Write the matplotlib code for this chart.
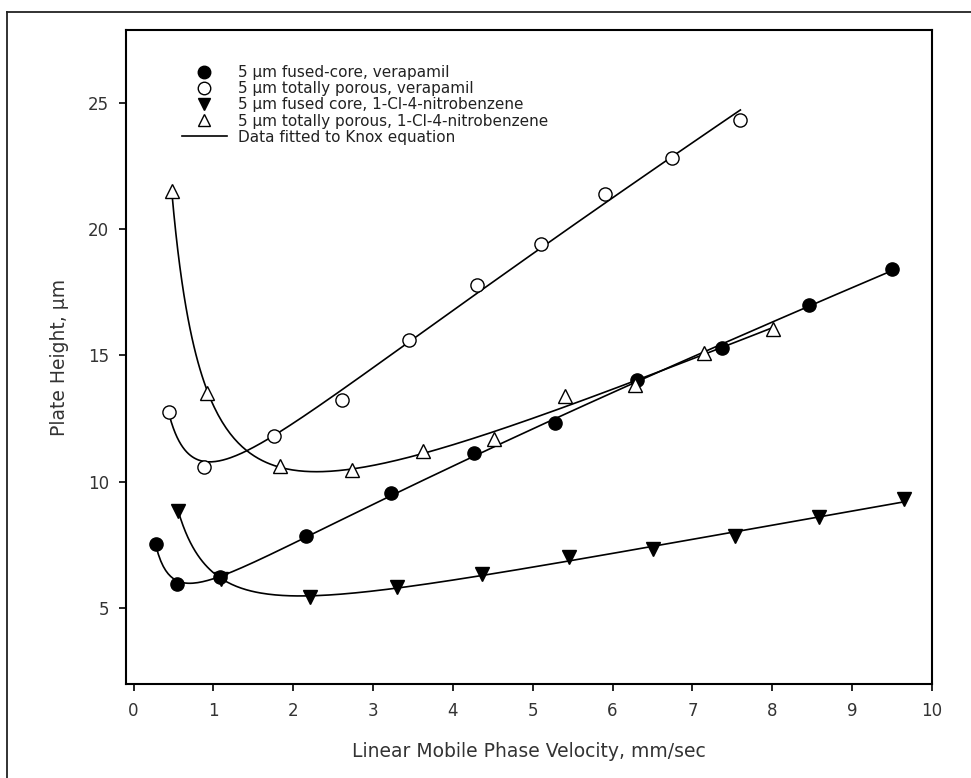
import numpy as np
import matplotlib.pyplot as plt
from matplotlib.lines import Line2D

plt.rcParams['font.family'] = ['DejaVu Sans']

# velocity (mm/sec) and plate height (um) for each column / analyte
u_fc_ver = [0.28, 0.55, 1.08, 2.16, 3.22, 4.26, 5.28, 6.31, 7.37, 8.46, 9.50]
h_fc_ver = [7.54, 5.95, 6.22, 7.84, 9.55, 11.13, 12.31, 14.03, 15.30, 16.99, 18.40]

u_tp_ver = [0.45, 0.88, 1.76, 2.61, 3.45, 4.30, 5.10, 5.90, 6.75, 7.60]
h_tp_ver = [12.74, 10.59, 11.81, 13.22, 15.60, 17.80, 19.40, 21.40, 22.80, 24.30]

u_fc_nb = [0.56, 1.10, 2.21, 3.30, 4.37, 5.45, 6.51, 7.53, 8.59, 9.65]
h_fc_nb = [8.85, 6.16, 5.43, 5.83, 6.35, 7.01, 7.34, 7.87, 8.59, 9.31]

u_tp_nb = [0.48, 0.92, 1.84, 2.74, 3.62, 4.51, 5.41, 6.28, 7.14, 8.01]
h_tp_nb = [21.50, 13.53, 10.61, 10.47, 11.22, 11.68, 13.39, 13.82, 15.10, 16.03]

labels = ["5 \u00b5m fused-core, verapamil",
          "5 \u00b5m totally porous, verapamil",
          "5 \u00b5m fused core, 1-Cl-4-nitrobenzene",
          "5 \u00b5m totally porous, 1-Cl-4-nitrobenzene",
          "Data fitted to Knox equation"]


def knox_fit(u, h):
    # H = A u^(1/3) + B/u + C u, linear least squares
    u = np.asarray(u, float)
    h = np.asarray(h, float)
    M = np.column_stack([u ** (1 / 3), 1 / u, u])
    coef = np.linalg.lstsq(M, h, rcond=None)[0]
    uu = np.linspace(u.min(), u.max(), 300)
    hh = coef[0] * uu ** (1 / 3) + coef[1] / uu + coef[2] * uu
    return uu, hh


fig = plt.figure(figsize=(9.71, 7.78), dpi=100)
ax = fig.add_axes([126 / 971, 1 - 684 / 778, 806 / 971, 654 / 778])

# outer frame (left and top edges)
fig.add_artist(Line2D([7 / 971, 7 / 971], [0, 1 - 12 / 778], color='#222222', lw=1.3))
fig.add_artist(Line2D([7 / 971, 1], [1 - 12 / 778, 1 - 12 / 778], color='#222222', lw=1.3))

series = [
    (u_fc_ver, h_fc_ver, 'o', 'black'),
    (u_tp_ver, h_tp_ver, 'o', 'white'),
    (u_fc_nb, h_fc_nb, 'v', 'black'),
    (u_tp_nb, h_tp_nb, '^', 'white'),
]

handles = []
for u, h, m, fc in series:
    uu, hh = knox_fit(u, h)
    ax.plot(uu, hh, color='black', lw=1.2, zorder=2)
    ax.plot(u, h, linestyle='none', marker=m, ms=9.5, mfc=fc, mec='black', mew=1.0, zorder=3)
    handles.append(Line2D([], [], linestyle='none', marker=m, ms=9, mfc=fc, mec='black', mew=1.0))
handles.append(Line2D([], [], color='black', lw=1.2))

ax.set_xlim(-0.094, 10.0)
ax.set_ylim(2.0, 27.87)
ax.set_xticks(range(0, 11))
ax.set_yticks([5, 10, 15, 20, 25])

for s in ax.spines.values():
    s.set_linewidth(1.5)
ax.tick_params(direction='out', length=5, width=1.2, labelsize=12, labelcolor='#333333')
ax.tick_params(axis='x', pad=8)
ax.tick_params(axis='y', pad=7)

ax.set_xlabel("Linear Mobile Phase Velocity, mm/sec", fontsize=13.5, color='#333333', labelpad=16)
ax.set_ylabel("Plate Height, \u00b5m", fontsize=13.5, color='#333333', labelpad=14)

ax.legend(handles, labels, loc='upper left', bbox_to_anchor=(0.069, 0.946),
          frameon=False, fontsize=11, handlelength=2.95, handletextpad=0.74,
          labelspacing=0.07, borderpad=0, borderaxespad=0, labelcolor='#222222')

fig.savefig('out.png', dpi=100)
